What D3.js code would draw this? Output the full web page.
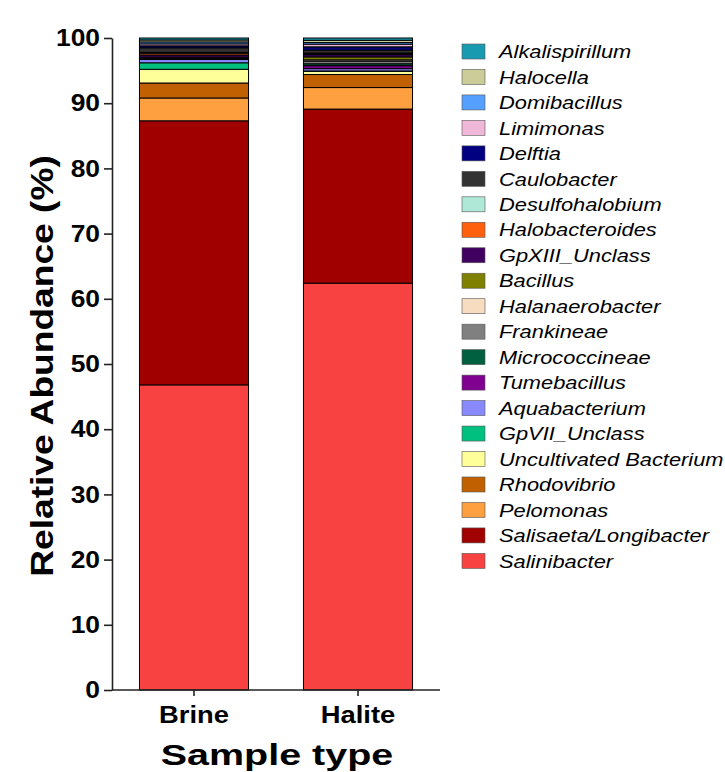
<!DOCTYPE html>
<html>
<head>
<meta charset="utf-8">
<script src="https://cdn.jsdelivr.net/npm/d3@7"></script>
<style>
  html, body { margin: 0; padding: 0; background: #fff; }
  svg { display: block; font-family: "Liberation Sans", Arial, sans-serif; }
</style>
</head>
<body>
<svg id="chart" width="725" height="772"></svg>
<script>
// Sample types on the x axis
const samples = ["Brine", "Halite"];

// Genera, listed bottom of the stack first
const genera = [
  "Salinibacter", "Salisaeta/Longibacter", "Pelomonas", "Rhodovibrio",
  "Uncultivated Bacterium", "GpVII_Unclass", "Aquabacterium", "Tumebacillus",
  "Micrococcineae", "Frankineae", "Halanaerobacter", "Bacillus",
  "GpXIII_Unclass", "Halobacteroides", "Desulfohalobium", "Caulobacter",
  "Delftia", "Limimonas", "Domibacillus", "Halocella", "Alkalispirillum"
];

// Relative abundance (%) per genus, same order as genera
const brineValues = [
  46.8, 40.5, 3.5, 2.3, 2.1, 1.0, 0.5, 0.1,
  0.1, 0.05, 0.05, 0.05,
  0.35, 0.25, 0.15, 0.7,
  0.3, 0.3, 0.3, 0.3, 0.3
];
const haliteValues = [
  62.4, 26.7, 3.3, 2.0, 0.5, 0.05, 0.35, 0.45,
  0.3, 0.4, 0.2, 0.45,
  0.35, 0.1, 0.15, 0.45,
  0.5, 0.4, 0.25, 0.35, 0.35
];

const genusColors = [
  "#f84242", "#a00000", "#ffa040", "#c06000",
  "#ffff99", "#00c080", "#8888ff", "#800090",
  "#006040", "#808080", "#f8dcc0", "#808000",
  "#400060", "#ff6010", "#b0e8d8", "#333333",
  "#000080", "#f0b8d8", "#55a0ff", "#cccc99", "#1a9ab0"
];

const yTicks = [0, 10, 20, 30, 40, 50, 60, 70, 80, 90, 100];

const rows = samples.map((s, i) => {
  const vals = i === 0 ? brineValues : haliteValues;
  const r = { sample: s };
  genera.forEach((g, j) => { r[g] = vals[j]; });
  return r;
});

// Widen a text run horizontally by a factor, keeping its anchor
function stretch(sel, factor) {
  sel.each(function () {
    const len = this.getComputedTextLength();
    d3.select(this)
      .attr("textLength", len * factor)
      .attr("lengthAdjust", "spacingAndGlyphs");
  });
}

const svg = d3.select("#chart");
const plot = { left: 112, right: 440, top: 38, bottom: 690 };

const x = d3.scaleBand().domain(samples)
  .range([plot.left, plot.right]).paddingInner(0.335).paddingOuter(0.1675);
const y = d3.scaleLinear().domain([0, 100]).range([plot.bottom, plot.top]);
const color = d3.scaleOrdinal().domain(genera).range(genusColors);

const series = d3.stack().keys(genera)(rows);

// Stacked bars
svg.append("g").selectAll("g").data(series).join("g")
  .attr("fill", d => color(d.key))
  .selectAll("rect").data(d => d).join("rect")
  .attr("x", d => x(d.data.sample))
  .attr("width", x.bandwidth())
  .attr("y", d => y(d[1]))
  .attr("height", d => y(d[0]) - y(d[1]))
  .attr("stroke", "#000")
  .attr("stroke-width", 1);

// Y axis
const yAxis = svg.append("g")
  .attr("transform", `translate(${plot.left},0)`)
  .call(d3.axisLeft(y).tickValues(yTicks).tickSize(8).tickPadding(4).tickSizeOuter(0));
yAxis.select(".domain").attr("stroke", "#222").attr("stroke-width", 1.6);
yAxis.selectAll(".tick line").attr("stroke", "#222").attr("stroke-width", 1.6);
yAxis.selectAll(".tick text")
  .attr("fill", "#000").attr("font-size", 24).attr("font-weight", "bold")
  .attr("font-family", "Liberation Sans, Arial, sans-serif")
  .call(stretch, 1.1);

// X axis
const xAxis = svg.append("g")
  .attr("transform", `translate(0,${plot.bottom})`)
  .call(d3.axisBottom(x).tickSize(6).tickPadding(10).tickSizeOuter(0));
xAxis.select(".domain").attr("d", `M${plot.left},0H${plot.right}`)
  .attr("stroke", "#222").attr("stroke-width", 1.6);
xAxis.selectAll(".tick line").attr("stroke", "#222").attr("stroke-width", 1.6);
xAxis.selectAll(".tick text")
  .attr("fill", "#000").attr("font-size", 24).attr("font-weight", "bold")
  .attr("font-family", "Liberation Sans, Arial, sans-serif")
  .call(stretch, 1.14);

// Axis titles
svg.append("text")
  .attr("transform", `translate(53,${(plot.top + plot.bottom) / 2 + 2}) rotate(-90)`)
  .attr("text-anchor", "middle")
  .attr("font-size", 32).attr("font-weight", "bold")
  .text("Relative Abundance (%)")
  .call(stretch, 1.16);

svg.append("text")
  .attr("x", 277).attr("y", 765)
  .attr("text-anchor", "middle")
  .attr("font-size", 29).attr("font-weight", "bold")
  .text("Sample type")
  .call(stretch, 1.36);

// Legend, top of the stack first
const legendItems = genera.slice().reverse();
const legend = svg.append("g").attr("transform", "translate(462,44)");
const li = legend.selectAll("g").data(legendItems).join("g")
  .attr("transform", (d, i) => `translate(0,${i * 25.47})`);
li.append("rect")
  .attr("width", 23).attr("height", 15)
  .attr("fill", d => color(d))
  .attr("stroke", "#555").attr("stroke-width", 0.6);
li.append("text")
  .attr("x", 37).attr("y", 7.5).attr("dy", "0.36em")
  .attr("font-size", 18.5).attr("font-style", "italic")
  .text(d => d)
  .call(stretch, 1.18);
</script>
</body>
</html>
